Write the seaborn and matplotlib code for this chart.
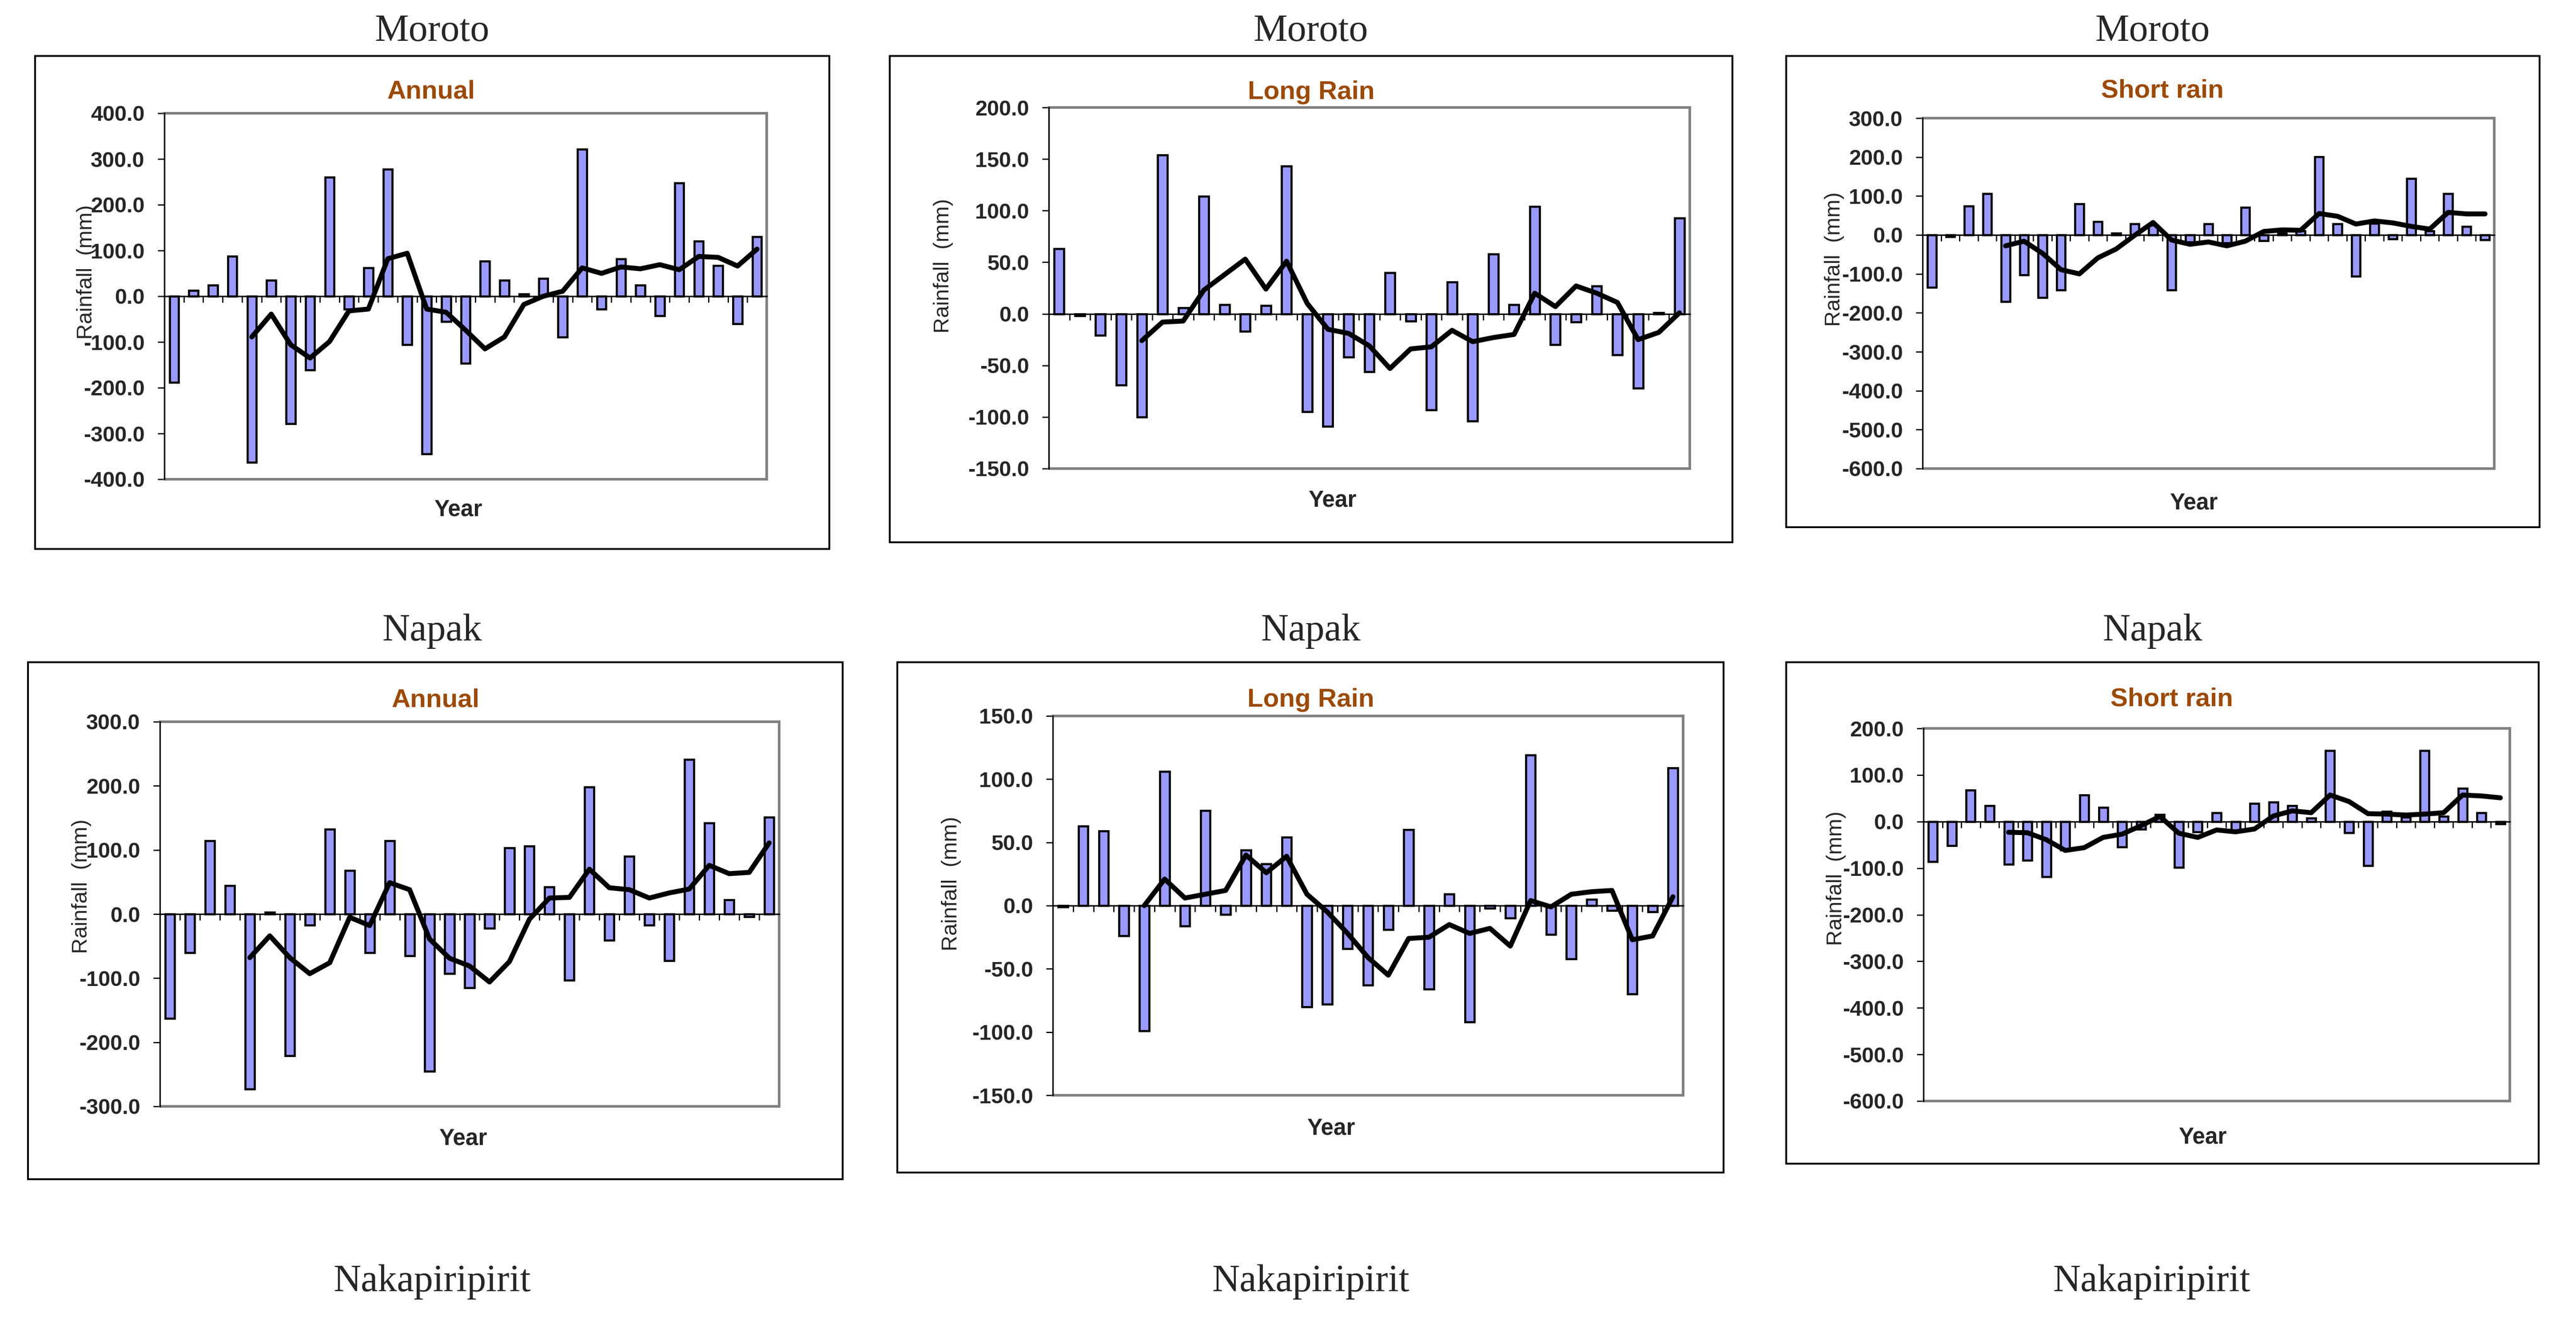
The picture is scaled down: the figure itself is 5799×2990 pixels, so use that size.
"""Rainfall anomaly bars with 5-year running mean, Moroto and Napak
"""
import numpy as np
import seaborn as sns
import matplotlib.pyplot as plt
from matplotlib.patches import Rectangle

sns.set_style("white")
plt.rcParams["font.family"] = ["Liberation Sans", "DejaVu Sans"]
plt.rcParams["font.weight"] = "bold"

NA = np.nan

# anomalies (mm) per year
moroto_annual = [-188, 13, 24, 87, -363, 35, -279, -161, 260, -28,
                 62, 278, -106, -345, -55, -147, 77, 35, 5, 39,
                 -89, 321, -28, 82, 24, -43, 248, 120, 67, -60, 130]
moroto_annual_ma = [NA, NA, NA, NA, -89, -39, -106, -135, -99, -32,
                    -28, 82, 94, -28, -35, -74, -115, -89, -18, 0,
                    11, 62, 50, 64, 60, 69, 58, 87, 85, 66, 103]

moroto_long = [63, -2, -21, -69, -100, 154, 6, 114, 9, -17,
               8, 143, -95, -109, -42, -56, 40, -7, -93, 31,
               -104, 58, 9, 104, -30, -8, 27, -40, -72, 1, 93]
moroto_long_ma = [NA, NA, NA, NA, -26, -8, -7, 23, 38, 53,
                  24, 51, 10, -15, -19, -31, -53, -34, -32, -16,
                  -27, -23, -20, 20, 7, 27, 20, 11, -25, -18, 1]

moroto_short = [-135, -5, 74, 106, -171, -103, -161, -142, 80, 34,
                4, 28, 25, -142, -18, 28, -20, 71, -15, 5,
                10, 201, 28, -106, 30, -10, 145, 10, 106, 22, -12]
moroto_short_ma = [NA, NA, NA, NA, -28, -16, -47, -89, -100, -59,
                   -36, -1, 32, -13, -24, -18, -28, -16, 9, 13,
                   12, 55, 48, 28, 36, 31, 22, 15, 58, 54, 54]

napak_annual = [-163, -60, 114, 44, -273, 3, -221, -17, 132, 68,
                -60, 114, -65, -245, -93, -115, -22, 103, 106, 42,
                -103, 198, -41, 90, -17, -73, 241, 142, 22, -4, 151]
napak_annual_ma = [NA, NA, NA, NA, -68, -34, -68, -93, -76, -5,
                   -18, 49, 38, -39, -69, -81, -106, -74, -8, 25,
                   26, 70, 41, 38, 25, 33, 39, 76, 63, 65, 111]

napak_long = [-1, 63, 59, -24, -99, 106, -16, 75, -7, 44,
              33, 54, -80, -78, -34, -63, -19, 60, -66, 9,
              -92, -2, -10, 119, -23, -42, 5, -4, -70, -5, 109]
napak_long_ma = [NA, NA, NA, NA, 0, 21, 6, 9, 12, 40,
                 26, 39, 9, -5, -22, -41, -55, -26, -25, -15,
                 -22, -18, -32, 4, -1, 9, 11, 12, -27, -24, 7]

napak_short = [-86, -52, 67, 34, -92, -83, -118, -61, 57, 30,
               -55, -16, 15, -98, -22, 19, -22, 39, 42, 34,
               7, 152, -24, -95, 22, 9, 152, 11, 71, 19, -5]
napak_short_ma = [NA, NA, NA, NA, -23, -24, -39, -62, -56, -34,
                  -27, -9, 11, -25, -34, -18, -22, -16, 12, 23,
                  19, 57, 43, 17, 16, 14, 16, 19, 57, 55, 51]

year_idx = list(range(len(moroto_annual)))

seasons = ["Annual", "Long Rain", "Short rain"]
sites = ["Moroto", "Napak", "Nakapiripirit"]

series = [
    (moroto_annual, moroto_annual_ma, (-400, 400), 100),
    (moroto_long, moroto_long_ma, (-150, 200), 50),
    (moroto_short, moroto_short_ma, (-600, 300), 100),
    (napak_annual, napak_annual_ma, (-300, 300), 100),
    (napak_long, napak_long_ma, (-150, 150), 50),
    (napak_short, napak_short_ma, (-600, 200), 100),
]

# layout in pixels of the output image: chart frame, plot area, text anchors
W, H = 5799, 2990
LAYOUT = [
    dict(frame=(79, 126, 1867, 1236), plot=(370, 255, 1726, 1079),
         title=(971, 206), ylab=(194, 613), year=(1031, 1148)),
    dict(frame=(2003, 126, 3900, 1221), plot=(2361, 242, 3804, 1055),
         title=(2952, 208), ylab=(2123, 599), year=(2999, 1127)),
    dict(frame=(4021, 126, 5717, 1187), plot=(4328, 266, 5615, 1055),
         title=(4868, 205), ylab=(4130, 584), year=(4938, 1133)),
    dict(frame=(63, 1491, 1897, 2655), plot=(360, 1625, 1754, 2491),
         title=(981, 1576), ylab=(183, 1996), year=(1042, 2564)),
    dict(frame=(2020, 1491, 3880, 2640), plot=(2370, 1612, 3789, 2466),
         title=(2951, 1576), ylab=(2142, 1990), year=(2996, 2541)),
    dict(frame=(4021, 1491, 5715, 2620), plot=(4330, 1640, 5650, 2479),
         title=(4889, 1574), ylab=(4134, 1978), year=(4958, 2561)),
]
SITE_POS = [
    [(973, 71), (2951, 71), (4846, 71)],
    [(973, 1421), (2951, 1421), (4846, 1421)],
    [(973, 2886), (2951, 2886), (4844, 2886)],
]

BAR_COLOR = "#9999FF"
TITLE_COLOR = "#9C4A06"
GRAY = "#808080"

fx = lambda px: px / W
fy = lambda py: 1 - py / H

fig = plt.figure(figsize=(W / 100, H / 100), dpi=100)

for row, positions in enumerate(SITE_POS):
    for (x, y) in positions:
        fig.text(fx(x), fy(y), sites[row], ha="center", va="center",
                 fontsize=62, fontweight="normal",
                 family=["Liberation Serif", "DejaVu Serif"])

for i, ((bars, ma, ylim, step), lay) in enumerate(zip(series, LAYOUT)):
    x0, y0, x1, y1 = lay["frame"]
    fig.add_artist(Rectangle((fx(x0), fy(y1)), fx(x1 - x0), (y1 - y0) / H,
                             transform=fig.transFigure, fill=False,
                             ec="black", lw=3))

    l, t, r, b = lay["plot"]
    ax = fig.add_axes([fx(l), fy(b), fx(r - l), (b - t) / H])

    sns.barplot(x=year_idx, y=bars, ax=ax, color=BAR_COLOR, saturation=1,
                edgecolor="black", linewidth=3.4, width=0.47, errorbar=None)
    sns.lineplot(x=year_idx, y=ma, ax=ax, color="black", linewidth=8)

    ax.set_xlim(-0.5, len(year_idx) - 0.5)
    ax.set_ylim(*ylim)
    ax.set_xlabel("")
    ax.set_ylabel("")

    ax.set_xticks(np.arange(-0.5, len(year_idx), 1))
    ax.set_xticklabels([])
    ax.set_yticks(np.arange(ylim[0], ylim[1] + step, step))
    ax.yaxis.set_major_formatter(plt.FuncFormatter(lambda v, pos: f"{v:.1f}"))

    ax.spines["bottom"].set_position(("data", 0))
    ax.spines["bottom"].set(color="black", linewidth=2.4)
    ax.spines["left"].set(color="black", linewidth=2.4, zorder=3)
    ax.spines["top"].set(color=GRAY, linewidth=4.2)
    ax.spines["right"].set(color=GRAY, linewidth=4.2)
    ax.axhline(ylim[0], color=GRAY, linewidth=4.2, clip_on=False)

    ax.tick_params(axis="x", direction="out", length=10, width=2,
                   color="black", bottom=True)
    ax.tick_params(axis="y", direction="out", length=11, width=2,
                   color="black", left=True, labelsize=35, pad=21)

    tx, ty = lay["title"]
    fig.text(fx(tx), fy(ty), seasons[i % 3], ha="center", va="center",
             fontsize=42, color=TITLE_COLOR)
    lx, ly = lay["ylab"]
    fig.text(fx(lx), fy(ly), "Rainfall  (mm)", ha="center", va="center",
             rotation=90, fontsize=35, fontweight="normal")
    yx, yy = lay["year"]
    fig.text(fx(yx), fy(yy), "Year", ha="center", va="center", fontsize=37)

plt.savefig("out.png", dpi=100)
plt.close()
